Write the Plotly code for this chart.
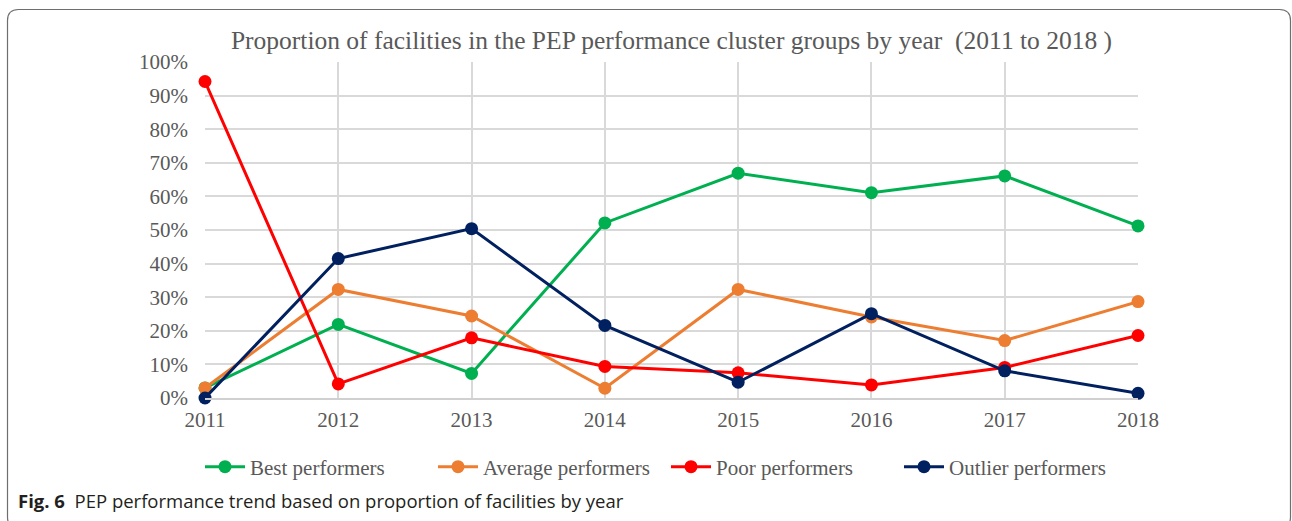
import plotly.graph_objects as go
import re

years = [2011, 2012, 2013, 2014, 2015, 2016, 2017, 2018]
best = [0.03, 0.219, 0.073, 0.521, 0.669, 0.611, 0.661, 0.512]
average = [0.03, 0.323, 0.244, 0.029, 0.323, 0.241, 0.171, 0.287]
poor = [0.942, 0.042, 0.179, 0.094, 0.075, 0.039, 0.091, 0.186]
outlier = [0.0, 0.415, 0.504, 0.216, 0.047, 0.251, 0.081, 0.014]

series = [
    ("Best performers", best, "#00b050"),
    ("Average performers", average, "#ed7d31"),
    ("Poor performers", poor, "#ff0000"),
    ("Outlier performers", outlier, "#002060"),
]

fig = go.Figure()
for name, vals, col in series:
    fig.add_trace(go.Scatter(
        x=years, y=vals, name=name, mode="lines+markers",
        line=dict(color=col, width=3),
        marker=dict(color=col, size=13),
        cliponaxis=False,
    ))

W, H = 1292, 521
L, R, T, B = 205, 154, 62, 123
pw, ph = W - L - R, H - T - B


def px_x(x):
    return (x - L) / pw


def px_y(y):
    return (H - B - y) / ph


# rounded border box (pixel coords -> paper coords)
x0, x1, y0, y1, r = 7.5, 1290.5, 9.5, 528, 11
path = (f"M {x0+r},{y0} L {x1-r},{y0} Q {x1},{y0} {x1},{y0+r} L {x1},{y1-r} "
        f"Q {x1},{y1} {x1-r},{y1} L {x0+r},{y1} Q {x0},{y1} {x0},{y1-r} "
        f"L {x0},{y0+r} Q {x0},{y0} {x0+r},{y0} Z")


def conv(m):
    a, b = float(m.group(1)), float(m.group(2))
    return f"{px_x(a):.5f},{px_y(b):.5f}"


path_paper = re.sub(r"([\d.]+),([\d.]+)", conv, path)

fig.update_layout(
    width=W, height=H,
    margin=dict(l=L, r=R, t=T, b=B),
    paper_bgcolor="white", plot_bgcolor="white",
    title=dict(
        text="Proportion of facilities in the PEP performance cluster groups by year  (2011 to 2018 )",
        x=(L + pw / 2) / W, xanchor="center", y=1 - 40 / H, yanchor="middle",
        font=dict(family="Liberation Serif", size=25.5, color="#595959"),
    ),
    xaxis=dict(
        range=[2011, 2018], tickvals=years, ticktext=[str(y) for y in years],
        showgrid=True, gridcolor="#d9d9d9", gridwidth=1.5,
        showline=True, linecolor="#d0d0d0", linewidth=1.5,
        zeroline=False, ticks="",
        tickfont=dict(family="Liberation Serif", size=21, color="#595959"),
        ticklabelstandoff=2,
    ),
    yaxis=dict(
        range=[0, 1], dtick=0.1, tickformat=".0%",
        showgrid=True, gridcolor="#d9d9d9", gridwidth=1.5,
        zeroline=False, ticks="", showline=False,
        tickfont=dict(family="Liberation Serif", size=21, color="#595959"),
        ticklabelstandoff=16,
    ),
    legend=dict(
        orientation="h", x=px_x(200), xanchor="left", y=px_y(467), yanchor="middle",
        font=dict(family="Liberation Serif", size=21, color="#595959"),
        itemwidth=40, entrywidth=178, entrywidthmode="pixels",
    ),
    showlegend=True,
    shapes=[dict(type="path", xref="paper", yref="paper", path=path_paper,
                 line=dict(color="#6e6e6e", width=1.2), layer="below")],
    annotations=[dict(
        text="<b>Fig. 6</b>  PEP performance trend based on proportion of facilities by year",
        xref="paper", yref="paper", x=px_x(16), y=px_y(500), xanchor="left", yanchor="middle",
        showarrow=False, font=dict(family="Open Sans", size=18.5, color="#231f20"),
    )],
)

fig.write_html("out.html", config={"displayModeBar": False},
               post_script="document.body.style.margin='0';")
